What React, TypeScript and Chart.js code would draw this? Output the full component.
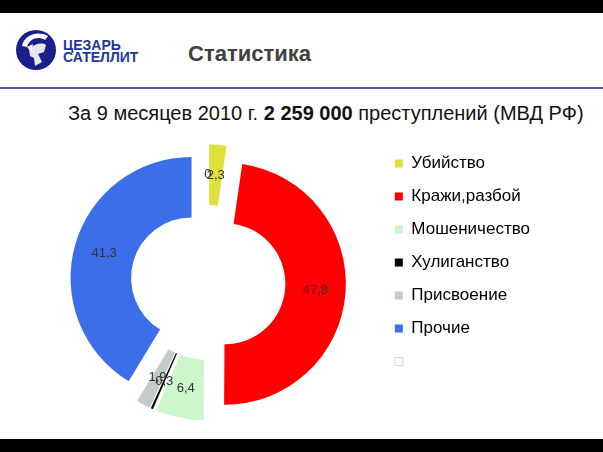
import React, { useEffect, useRef } from "react";
import { Chart, registerables } from "chart.js";

Chart.register(...registerables);

const categories = ["Убийство", "Кражи,разбой", "Мошеничество", "Хулиганство", "Присвоение", "Прочие", ""];
const values = [2.3, 47.8, 6.4, 0.3, 1.9, 41.3, 0];
const colors = ["#dfe13a", "#ff0000", "#ccf6cc", "#000000", "#c3cbcb", "#3b6ee8", "#ffffff"];

const FONT = "'Liberation Sans', Arial, sans-serif";
const EXPLODE = 17;

const explodePlugin = {
  id: "explode",
  beforeDatasetsDraw(chart: any) {
    const ctx = chart.ctx;
    const meta = chart.getDatasetMeta(0);
    meta.data.forEach((arc: any) => {
      const mid = (arc.startAngle + arc.endAngle) / 2;
      ctx.save();
      ctx.translate(Math.cos(mid) * EXPLODE, Math.sin(mid) * EXPLODE);
      arc.draw(ctx);
      ctx.restore();
    });
    ctx.save();
    ctx.font = `13px ${FONT}`;
    ctx.fillStyle = "#333333";
    ctx.textAlign = "center";
    ctx.textBaseline = "middle";
    meta.data.forEach((arc: any, i: number) => {
      const mid = (arc.startAngle + arc.endAngle) / 2;
      const rr = (arc.innerRadius + arc.outerRadius) / 2 + EXPLODE;
      ctx.fillText(String(values[i]).replace(".", ","), arc.x + Math.cos(mid) * rr, arc.y + Math.sin(mid) * rr);
    });
    ctx.restore();
    return false;
  },
};

function textTop(baseline: number, fs: number) {
  return baseline - 0.8465 * fs;
}

export default function App() {
  const ref = useRef<HTMLCanvasElement | null>(null);
  useEffect(() => {
    if (!ref.current) return;
    const chart = new Chart(ref.current, {
      type: "doughnut",
      data: {
        labels: categories,
        datasets: [
          {
            data: values,
            backgroundColor: colors,
            borderWidth: 0,
          },
        ],
      },
      options: {
        responsive: false,
        animation: false,
        events: [],
        cutout: "50%",
        radius: 121,
        layout: { padding: { left: 37, top: 139, right: 63, bottom: 26 } },
        plugins: {
          tooltip: { enabled: false },
          legend: {
            position: "right",
            align: "start",
            labels: {
              boxWidth: 8,
              boxHeight: 8,
              padding: 16,
              color: "#1a1a1a",
              font: { size: 17, family: FONT },
              generateLabels: () =>
                categories.map((c, i) => ({
                  text: c,
                  fillStyle: colors[i],
                  strokeStyle: i === 6 ? "#d8d8d8" : colors[i],
                  lineWidth: i === 6 ? 1 : 0,
                  hidden: false,
                  index: i,
                })),
            },
          },
        },
      } as any,
      plugins: [explodePlugin as any],
    });
    return () => chart.destroy();
  }, []);

  return (
    <div style={{ position: "absolute", left: 0, top: 0, width: 603, height: 452, background: "#fff", overflow: "hidden", fontFamily: FONT }}>
      <div style={{ position: "absolute", left: 0, top: 0, width: 603, height: 13, background: "#000" }} />
      <div style={{ position: "absolute", left: 0, top: 439, width: 603, height: 13, background: "#000" }} />
      <svg style={{ position: "absolute", left: 0, top: 0 }} width={70} height={80}>
        <circle cx={36} cy={50} r={20} fill="#1b2088" />
        <path d="M22 46 C 24 36, 36 30, 48 36 L 45 40 C 38 36, 30 38, 27 47 Z" fill="#ffffff" />
        <path d="M29 49 C 34 44, 42 42, 46 45 L 44 52 L 38 54 L 42 62 L 35 66 L 34 58 L 30 56 Z" fill="#e6e6ee" />
        <path d="M27 47 L 33 44 L 31 52 Z" fill="#ffffff" />
      </svg>
      <div style={{ position: "absolute", left: 63, top: textTop(50, 14), fontSize: 14, lineHeight: "14px", fontWeight: "bold", color: "#22369c", whiteSpace: "nowrap" }}>ЦЕЗАРЬ</div>
      <div style={{ position: "absolute", left: 63, top: textTop(62, 14), fontSize: 14, lineHeight: "14px", fontWeight: "bold", color: "#22369c", whiteSpace: "nowrap" }}>САТЕЛЛИТ</div>
      <div style={{ position: "absolute", left: 188, top: textTop(62, 22), fontSize: 22, lineHeight: "22px", fontWeight: "bold", color: "#404040", whiteSpace: "nowrap" }}>Статистика</div>
      <div style={{ position: "absolute", left: 0, top: 87, width: 603, height: 2, background: "#5a5a9c" }} />
      <div style={{ position: "absolute", left: 68, top: textTop(120, 20), fontSize: 20, lineHeight: "20px", color: "#111", whiteSpace: "nowrap" }}>
        За 9 месяцев 2010 г. <b>2 259 000</b> преступлений (МВД РФ)
      </div>
      <canvas ref={ref} width={603} height={452} style={{ position: "absolute", left: 0, top: 0, width: 603, height: 452 }} />
    </div>
  );
}
